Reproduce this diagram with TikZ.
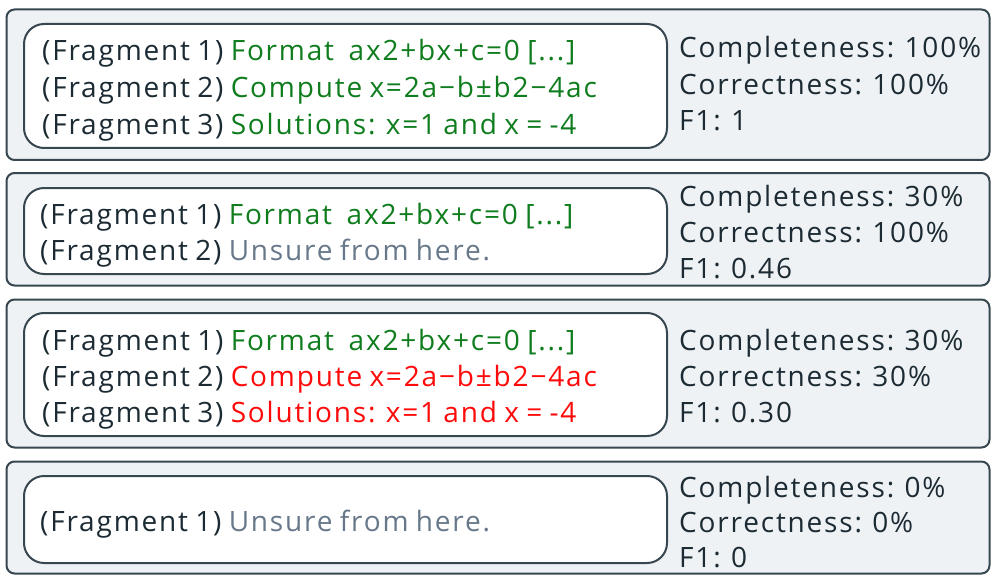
\documentclass[tikz,border=0pt]{standalone}
\usepackage{fontspec}
\setmainfont{Open Sans}[LetterSpace=6.5,WordSpace=0.8]
\definecolor{tdark}{HTML}{1C2B33}
\definecolor{tgreen}{HTML}{0F7D1E}
\definecolor{tred}{HTML}{FF0A0A}
\definecolor{tgray}{HTML}{67788A}
\definecolor{outfill}{HTML}{EFF2F5}
\definecolor{bord}{HTML}{37474F}
\begin{document}
\begin{tikzpicture}[x=1pt,y=-1pt,
  outerbox/.style={draw=bord, fill=outfill, line width=2pt, rounded corners=8pt},
  innerbox/.style={draw=bord, fill=white, line width=2pt, rounded corners=20pt},
  txt/.style={anchor=base west, inner sep=0pt, text=tdark, font=\fontsize{28}{34}\selectfont}]
\useasboundingbox (0,0) rectangle (996,583);
% box 1
\draw[outerbox] (6.5,9.5) rectangle (989.5,160) node[pos=0, inner sep=0pt] (o1) {};
\draw[innerbox] (24,24) rectangle (667,148) node[pos=0, inner sep=0pt] (i1) {};
\node[txt] (a1) at (42,61) {(Fragment 1) \textcolor{tgreen}{Format\ \ ax2+bx+c=0 [...]}};
\node[txt] (a2) at (42,98) {(Fragment 2) \textcolor{tgreen}{Compute x=2a−b±b2−4ac}};
\node[txt] (a3) at (42,135) {(Fragment 3) \textcolor{tgreen}{Solutions: x=1 and x = -4}};
\node[txt] (m1a) at (679,58) {Completeness: 100\%};
\node[txt] (m1b) at (679,95) {Correctness: 100\%};
\node[txt] (m1c) at (679,131) {F1: 1};
% box 2
\draw[outerbox] (6.5,173) rectangle (989.5,285.5) node[pos=0, inner sep=0pt] (o2) {};
\draw[innerbox] (24,188) rectangle (667,274) node[pos=0, inner sep=0pt] (i2) {};
\node[txt] (b1) at (40,224) {(Fragment 1) \textcolor{tgreen}{Format\ \ ax2+bx+c=0 [...]}};
\node[txt] (b2) at (40,260) {(Fragment 2) \textcolor{tgray}{Unsure from here.}};
\node[txt] (m2a) at (679,206) {Completeness: 30\%};
\node[txt] (m2b) at (679,242) {Correctness: 100\%};
\node[txt] (m2c) at (679,278) {F1: 0.46};
% box 3
\draw[outerbox] (6.5,299.5) rectangle (989.5,447.5) node[pos=0, inner sep=0pt] (o3) {};
\draw[innerbox] (24,313) rectangle (667,436) node[pos=0, inner sep=0pt] (i3) {};
\node[txt] (c1) at (42,350) {(Fragment 1) \textcolor{tgreen}{Format\ \ ax2+bx+c=0 [...]}};
\node[txt] (c2) at (42,386) {(Fragment 2) \textcolor{tred}{Compute x=2a−b±b2−4ac}};
\node[txt] (c3) at (42,422) {(Fragment 3) \textcolor{tred}{Solutions: x=1 and x = -4}};
\node[txt] (m3a) at (679,350) {Completeness: 30\%};
\node[txt] (m3b) at (679,386) {Correctness: 30\%};
\node[txt] (m3c) at (679,422) {F1: 0.30};
% box 4
\draw[outerbox] (6.5,461.5) rectangle (989.5,573.5) node[pos=0, inner sep=0pt] (o4) {};
\draw[innerbox] (24,476) rectangle (667,563) node[pos=0, inner sep=0pt] (i4) {};
\node[txt] (d1) at (40,531) {(Fragment 1) \textcolor{tgray}{Unsure from here.}};
\node[txt] (m4a) at (679,497) {Completeness: 0\%};
\node[txt] (m4b) at (679,532) {Correctness: 0\%};
\node[txt] (m4c) at (679,567) {F1: 0};
\end{tikzpicture}
\end{document}
